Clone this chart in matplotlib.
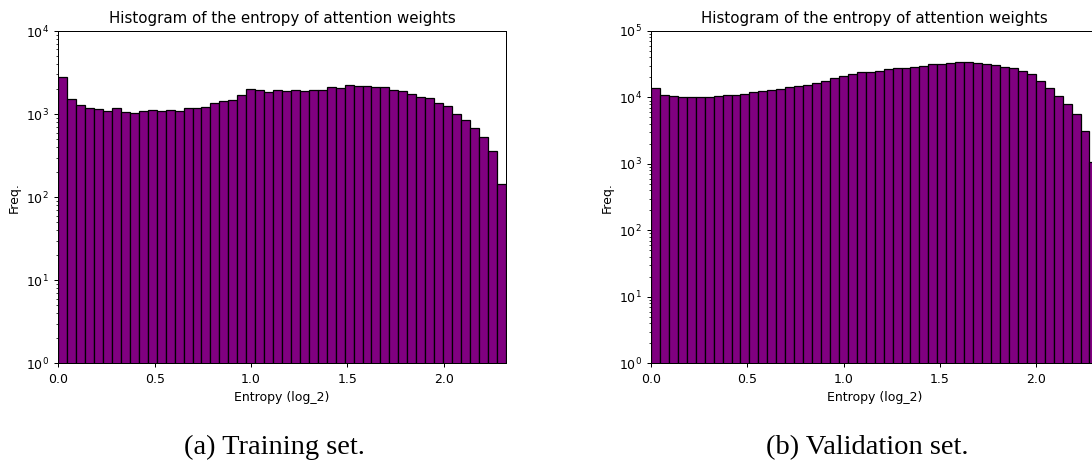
import numpy as np
import matplotlib
matplotlib.use("Agg")
import matplotlib.pyplot as plt

# bin counts (50 bins over [0, log2(5)])
train_counts = [2770, 1517, 1273, 1182, 1140, 1097, 1182, 1067, 1028, 1097,
                1130, 1087, 1130, 1087, 1182, 1182, 1216, 1346, 1437, 1490,
                1679, 2001, 1946, 1840, 1946, 1893, 1946, 1893, 1946, 1946,
                2096, 2037, 2214, 2153, 2153, 2096, 2096, 1946, 1893, 1758,
                1603, 1545, 1371, 1250, 1009, 855, 686, 530, 356, 144]
val_counts = [13700, 11000, 10640, 10280, 10280, 10280, 10280, 10640, 10890, 10890,
              11280, 12080, 12510, 12950, 13250, 14200, 14700, 15390, 16500, 17690,
              19400, 21040, 22540, 23880, 23880, 25300, 26500, 27430, 28060, 29060,
              30080, 31860, 31860, 32990, 34180, 34180, 32990, 32250, 31130, 29060,
              27430, 25010, 22290, 17690, 13700, 10640, 8070, 5572, 3165, 1057]
x_max = np.log2(5)
n_bins = 50
captions = ["(a) Training set.", "(b) Validation set."]
y_tops = [1e4, 1e5]

s = 0.9  # the panels look like default figures shrunk to 90%
plt.rcParams.update({
    "font.size": 10 * s,
    "axes.linewidth": 0.8 * s,
    "xtick.major.width": 0.8 * s,
    "ytick.major.width": 0.8 * s,
    "xtick.minor.width": 0.6 * s,
    "ytick.minor.width": 0.6 * s,
    "xtick.major.size": 3.5 * s,
    "ytick.major.size": 3.5 * s,
    "xtick.minor.size": 2 * s,
    "ytick.minor.size": 2 * s,
    "axes.labelpad": 4 * s,
})

W, H = 1092, 462
fig = plt.figure(figsize=(W / 100, H / 100), dpi=100)

edges = np.linspace(0, x_max, n_bins + 1)
lefts = [58.3, 651.0]
caption_x = [274, 867]
for i, counts in enumerate([train_counts, val_counts]):
    ax = fig.add_axes([lefts[i] / W, (H - 363.3) / H, 447.4 / W, 332.3 / H])
    ax.bar(edges[:-1], counts, width=np.diff(edges), align="edge",
           color="purple", edgecolor="black", linewidth=0.9)
    ax.set_yscale("log")
    ax.set_xlim(0, x_max)
    ax.set_ylim(1, y_tops[i])
    ax.set_title("Histogram of the entropy of attention weights",
                 fontsize=12 * s, pad=6 * s)
    ax.set_xlabel("Entropy (log_2)")
    ax.set_ylabel("Freq.")
    fig.text(caption_x[i] / W, (H - 454) / H, captions[i],
             family="Liberation Serif", fontsize=20.5,
             ha="center", va="baseline")

fig.savefig("out.png", dpi=100)
